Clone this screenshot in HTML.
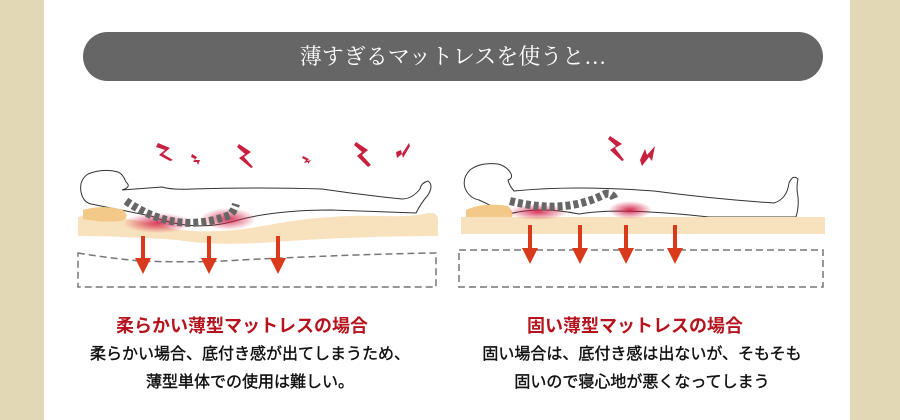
<!DOCTYPE html>
<html><head><meta charset="utf-8"><style>
body{margin:0;width:900px;height:420px;background:#fff;position:relative;overflow:hidden;font-family:"Liberation Sans","Noto Sans CJK JP",sans-serif}
.band{position:absolute;top:0;height:420px;background:#e2d8b5}
.pill{position:absolute;left:83px;top:32px;width:740px;height:49px;border-radius:25px;background:#666;color:#fff;font-family:"Liberation Serif","Noto Serif CJK SC",serif;font-size:22px;line-height:49px;text-align:center}
.t{position:absolute;text-align:center;white-space:nowrap}
.h{color:#b5141e;font-weight:bold;font-size:18px;line-height:24px}
.b{color:#111;font-size:16px;line-height:28px;font-weight:normal;-webkit-text-stroke:0.4px #111}
</style></head><body>
<div class="band" style="left:0;width:44px"></div>
<div class="band" style="left:850px;width:50px"></div>
<div class="pill">薄すぎるマットレスを使うと…</div>
<svg width="900" height="420" style="position:absolute;left:0;top:0">
<defs>
<radialGradient id="rg"><stop offset="0" stop-color="#d0143c"/><stop offset="1" stop-color="#d0143c" stop-opacity="0"/></radialGradient>
<marker id="ah" markerWidth="4" markerHeight="4" refX="2" refY="2" orient="auto" markerUnits="strokeWidth"><path d="M0,0 L4,2 L0,4z" fill="#d93a1c"/></marker>
</defs>
<g fill="#c8203e">
<path d="M158,143 l12,5 -7,6 10,6 -3,1 -11,-6 6,-5 -9,-3z"/>
<path d="M192,154 l5,3 -2,3 5,0 -2,5 -1,-3 -4,0 2,-3 -4,-2z"/>
<path d="M239,144 l12,8 -7,5 9,10 -2,1 -12,-10 6,-4 -8,-7z"/>
<path d="M303,156 l6,3 -2,2 4,-1 -3,4 0,-2 -4,1 2,-3 -4,-2z"/>
<path d="M356,142 l12,8 -6,5 9,10 -3,2 -11,-11 5,-4 -8,-7z"/>
<path d="M396,152 l5,-2 1,4 7,-11 1,3 -7,12 -1,-4 -5,4z"/>
<path d="M610,136 l12,8 -7,4 9,12 -2,1 -12,-11 6,-4 -8,-7z"/>
<path d="M640,160 l5,-11 2,6 8,-9 -3,15 -3,-4 -7,9z"/>
</g>
<path d="M122,190 q10,-3 4,-8 q-3,-8 -8,-10 q-15,-4 -30,2 q-9,6 -7,18 q2,10 10,12 l60,12 q40,16 80,6 q40,-12 100,-12 l85,3 q5,-10 12,-18 q6,-10 0,-14 q-7,2 -8,8 q-8,10 -18,10 q-40,-4 -80,-10 q-60,-2 -130,0 q-20,1 -30,-2z" fill="#fff" stroke="#333" stroke-width="1"/>
<path d="M78,217 q10,-3 25,-1 q40,4 70,13 q40,6 90,-3 q60,-12 120,-10 q30,1 45,-3 q8,-1 10,5 v18 q-70,0 -150,5 q-70,6 -110,-1 q-60,-4 -100,-4z" fill="#f8e2bd"/>
<path d="M83,210 q20,-6 40,0 q8,8 -2,11 q-18,2 -38,-2z" fill="#f3c98a"/>
<ellipse cx="158" cy="223" rx="35" ry="10" fill="url(#rg)" opacity="0.85"/>
<ellipse cx="228" cy="219" rx="28" ry="11" fill="url(#rg)" opacity="0.85"/>
<path d="M126,201 q50,35 104,14 q4,-4 6,-11" fill="none" stroke="#666" stroke-width="8" stroke-dasharray="5,3"/>
<path d="M78,253 q30,5 62,8 q60,2 100,-1 q120,-6 196,-7 v34 h-358z" fill="none" stroke="#777" stroke-width="1.5" stroke-dasharray="7,4"/>
<g stroke="#d93a1c" stroke-width="4" marker-end="url(#ah)">
<line x1="143" y1="236" x2="143" y2="266"/><line x1="209" y1="236" x2="209" y2="266"/><line x1="278" y1="236" x2="278" y2="266"/>
</g>
<path d="M508,180 q6,-2 2,-8 q-4,-6 -12,-8 q-18,-2 -28,6 q-8,8 -5,18 q4,10 14,12 l30,14 q30,-8 70,0 q40,-7 130,3 l87,0 q3,-10 2,-20 q-2,-10 0,-18 q-5,-5 -9,4 q-2,16 -15,20 q-60,-4 -120,-12 q-80,-6 -140,0 q-5,-6 -6,-11z" fill="#fff" stroke="#333" stroke-width="1"/>
<rect x="461" y="217" width="364" height="17" fill="#f8e2bd"/>
<path d="M466,210 q16,-8 42,-4 q6,6 4,11 h-46z" fill="#f3c98a"/>
<ellipse cx="538" cy="212" rx="30" ry="8" fill="url(#rg)" opacity="0.85"/>
<ellipse cx="630" cy="210" rx="22" ry="9" fill="url(#rg)" opacity="0.9"/>
<path d="M510,201 q55,14 95,-7 q8,-2 10,7" fill="none" stroke="#666" stroke-width="8" stroke-dasharray="5,3"/>
<rect x="459" y="250" width="364" height="37" fill="none" stroke="#777" stroke-width="1.5" stroke-dasharray="7,4"/>
<g stroke="#d93a1c" stroke-width="4" marker-end="url(#ah)">
<line x1="530" y1="225" x2="530" y2="256"/><line x1="580" y1="225" x2="580" y2="256"/><line x1="626" y1="225" x2="626" y2="256"/><line x1="675" y1="225" x2="675" y2="256"/>
</g>
</svg>
<div class="t h" style="left:116px;top:314px;width:270px;text-align:left">柔らかい薄型マットレスの場合</div>
<div class="t b" style="left:50px;top:341px;width:400px">柔らかい場合、底付き感が出てしまうため、<br>薄型単体での使用は難しい。</div>
<div class="t h" style="left:527px;top:314px;width:240px;text-align:left">固い薄型マットレスの場合</div>
<div class="t b" style="left:440px;top:341px;width:404px">固い場合は、底付き感は出ないが、そもそも<br>固いので寝心地が悪くなってしまう</div>
</body></html>
